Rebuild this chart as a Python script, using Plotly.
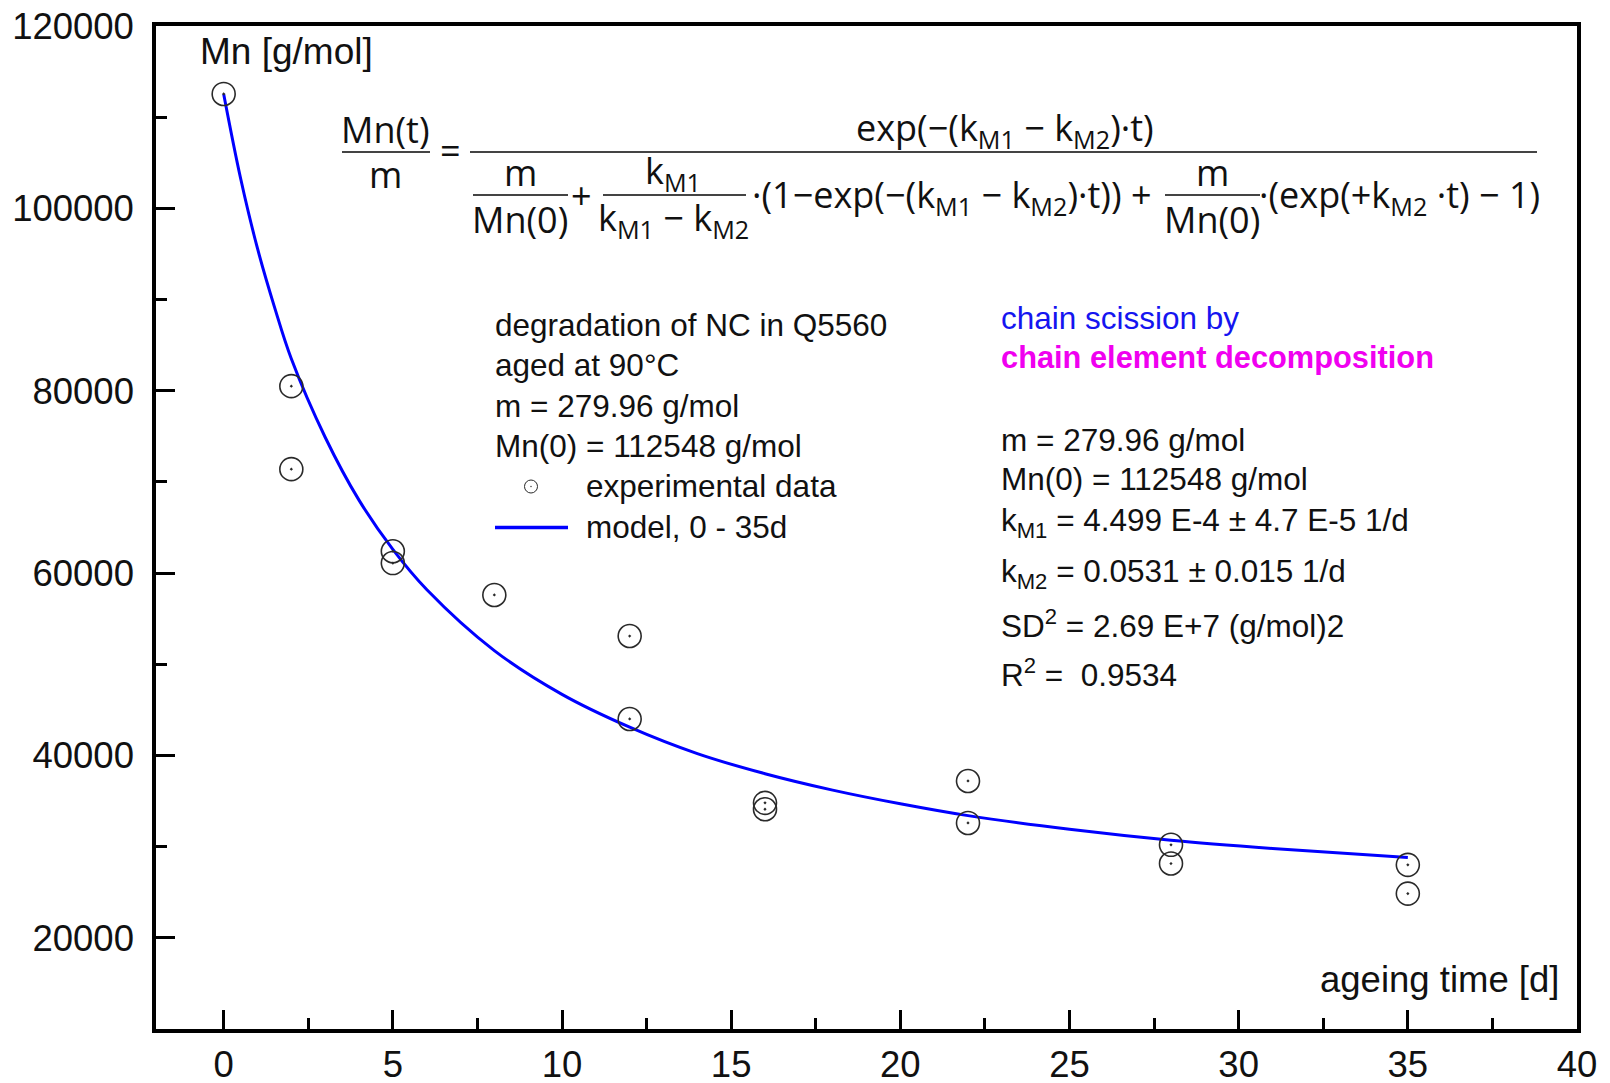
import plotly.graph_objects as go

# ---- data -------------------------------------------------------------
# measured number-average molar mass of NC aged at 90 °C
t_exp = [0, 2, 2, 5, 5, 8, 12, 12, 16, 16, 22, 22, 28, 28, 35, 35]
mn_exp = [112550, 80500, 71400, 62400, 61100, 57600, 53100, 44000,
          34800, 34100, 37200, 32600, 30200, 28150, 28000, 24850]

# fitted model curve (chain scission by chain element decomposition)
t_model = [0, 0.5, 1, 1.5, 2, 3, 4, 5, 6, 8, 10, 12, 14, 16, 18, 20, 22,
           25, 28, 31, 35]
mn_model = [112548, 103300, 95600, 89200, 83500, 74900, 68000, 62600,
            58200, 51500, 46700, 43100, 40200, 38000, 36200, 34700, 33400,
            31900, 30700, 29800, 28800]

x_ticks = [0, 5, 10, 15, 20, 25, 30, 35, 40]
x_minor = [2.5, 7.5, 12.5, 17.5, 22.5, 27.5, 32.5, 37.5]
y_ticks = [20000, 40000, 60000, 80000, 100000, 120000]
y_minor = [30000, 50000, 70000, 90000, 110000]
y_tick_text = ["20000", "40000", "60000", "80000", "100000", "120000"]

# ---- page geometry ----------------------------------------------------
W, H = 1610, 1083
ML, MR, MT, MB = 156, 33, 26, 54
PW, PH = W - ML - MR, H - MT - MB


def px(x):
    return (x - ML) / PW


def py(y):
    return (H - MB - y) / PH


SANS = "Arial, Liberation Sans, sans-serif"
FORM = "Open Sans, sans-serif"
BLUE = "#0000FF"
INK = "#111111"

fig = go.Figure()

fig.add_trace(go.Scatter(
    x=t_model, y=mn_model, mode="lines", line_shape="spline",
    line=dict(color=BLUE, width=3), showlegend=False))

fig.add_trace(go.Scatter(
    x=t_exp, y=mn_exp, mode="markers",
    marker=dict(symbol="circle-open-dot", size=23, color="#2a2a2a",
                line=dict(width=1.6, color="#2a2a2a")),
    showlegend=False))

axis_common = dict(
    showline=True, linewidth=3.5, linecolor="black", mirror=True,
    showgrid=False, zeroline=False, ticks="inside", ticklen=19,
    tickwidth=3, tickcolor="black", automargin=False,
    tickfont=dict(family=SANS, size=36.5, color=INK),
)

fig.update_xaxes(range=[-2, 40], tickmode="array", tickvals=x_ticks,
                 ticklabelstandoff=0,
                 minor=dict(tickmode="array", tickvals=x_minor,
                            ticks="inside", ticklen=11, tickwidth=3,
                            tickcolor="black"),
                 **axis_common)
fig.update_yaxes(range=[10000, 120000], tickmode="array", tickvals=y_ticks,
                 ticktext=y_tick_text, ticklabelstandoff=11,
                 minor=dict(tickmode="array", tickvals=y_minor,
                            ticks="inside", ticklen=11, tickwidth=3,
                            tickcolor="black"),
                 **axis_common)


def note(text, x, y, size, family=SANS, color=INK, xa="left", ya="middle"):
    fig.add_annotation(text=text, x=px(x), y=py(y), xref="paper",
                       yref="paper", showarrow=False, xanchor=xa,
                       yanchor=ya, font=dict(family=family, size=size,
                                             color=color))


def bar(x0, x1, y):
    fig.add_shape(type="line", xref="paper", yref="paper",
                  x0=px(x0), x1=px(x1), y0=py(y), y1=py(y),
                  line=dict(color="#444444", width=2))


# axis captions
note("Mn [g/mol]", 198, 52, 37)
note("ageing time [d]", 1561, 979, 36.5, xa="right")

# model equation
FS = 36
FC = "#111111"
note("Mn(t)", 385, 129, FS, FORM, FC, xa="center")
note("m", 385, 175, FS, FORM, FC, xa="center")
note("=", 450, 151, FS, FORM, FC, xa="center")
bar(342, 430, 152)
note("exp(−(k<sub>M1</sub> − k<sub>M2</sub>)·t)", 1005, 129, FS, FORM, FC,
     xa="center")
bar(470, 1537, 152)
note("m", 520, 173, FS, FORM, FC, xa="center")
note("Mn(0)", 520, 219, FS, FORM, FC, xa="center")
bar(473, 568, 195)
note("+", 581, 195, FS, FORM, FC, xa="center")
note("k<sub>M1</sub>", 673, 173, FS, FORM, FC, xa="center")
note("k<sub>M1</sub> − k<sub>M2</sub>", 673, 219, FS, FORM, FC,
     xa="center")
bar(603, 746, 195)
note("·(1−exp(−(k<sub>M1</sub> − k<sub>M2</sub>)·t)) +", 750, 196, FS,
     FORM, FC)
note("m", 1212, 173, FS, FORM, FC, xa="center")
note("Mn(0)", 1212, 219, FS, FORM, FC, xa="center")
bar(1165, 1260, 195)
note("·(exp(+k<sub>M2</sub> ·t) − 1)", 1257, 196, FS, FORM, FC)

# sample description and key
LS = 31.5
note("degradation of NC in Q5560", 493, 325.5, LS)
note("aged at 90°C", 493, 364.5, LS)
note("m = 279.96 g/mol", 493, 405.5, LS)
note("Mn(0) = 112548 g/mol", 493, 445.5, LS)
note("experimental data", 584, 485.5, LS)
note("model, 0 - 35d", 584, 526.5, LS)
fig.add_shape(type="circle", xref="paper", yref="paper",
              x0=px(524.5), x1=px(537.5), y0=py(493), y1=py(480),
              line=dict(color="#2a2a2a", width=1))
fig.add_shape(type="circle", xref="paper", yref="paper",
              x0=px(530.3), x1=px(531.7), y0=py(487.2), y1=py(485.8),
              fillcolor="#2a2a2a", line=dict(width=0))
fig.add_shape(type="line", xref="paper", yref="paper",
              x0=px(495), x1=px(568), y0=py(527.5), y1=py(527.5),
              line=dict(color=BLUE, width=3.5))

# fit summary
note("chain scission by", 999, 317.5, LS, color="#1515F0")
note("<b>chain element decomposition</b>", 999, 358, 30.8, color="#F000F0")
note("m = 279.96 g/mol", 999, 439.5, LS)
note("Mn(0) = 112548 g/mol", 999, 478.5, LS)
note("k<sub>M1</sub> = 4.499 E-4 ± 4.7 E-5 1/d", 999, 522.5, LS)
note("k<sub>M2</sub> = 0.0531 ± 0.015 1/d", 999, 573, LS)
note("SD<sup>2</sup> = 2.69 E+7 (g/mol)2", 999, 624, LS)
note("R<sup>2</sup> = &nbsp;0.9534", 999, 673, LS)

fig.update_layout(
    width=W, height=H, margin=dict(l=ML, r=MR, t=MT, b=MB),
    paper_bgcolor="white", plot_bgcolor="white",
    font=dict(family=SANS, color=INK),
)

fig.write_html("out.html")
